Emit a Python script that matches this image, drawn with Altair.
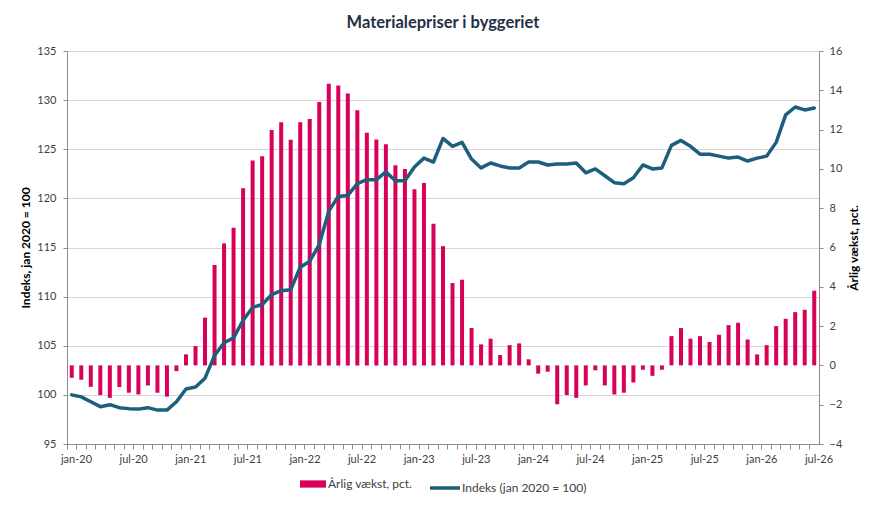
import altair as alt
import pandas as pd

years = [20, 21, 22, 23, 24, 25, 26]
mon = ['jan', 'feb', 'mar', 'apr', 'maj', 'jun', 'jul', 'aug', 'sep', 'okt', 'nov', 'dec']
months = [f"{m}-{y}" for y in years for m in mon][:79]

growth = [
    -0.63, -0.73, -1.09, -1.51, -1.65, -1.10, -1.39, -1.48, -1.02, -1.39, -1.59, -0.29,
    0.56, 0.98, 2.43, 5.11, 6.21, 7.01, 9.02, 10.43, 10.65, 11.98, 12.38, 11.48,
    12.38, 12.54, 13.40, 14.33, 14.25, 13.84, 12.98, 11.84, 11.50, 11.26, 10.18, 9.99,
    8.96, 9.28, 7.21, 6.07, 4.19, 4.36, 1.90, 1.07, 1.36, 0.53, 1.03, 1.12,
    0.31, -0.42, -0.32, -1.98, -1.51, -1.65, -1.02, -0.25, -1.02, -1.48, -1.39, -0.87,
    -0.22, -0.53, -0.22, 1.49, 1.90, 1.36, 1.49, 1.19, 1.56, 2.05, 2.17, 1.32,
    0.56, 1.03, 2.00, 2.37, 2.71, 2.83, 3.80,
]

index = [
    100.0, 99.8, 99.3, 98.8, 99.0, 98.7, 98.6, 98.55, 98.7, 98.45, 98.45, 99.3,
    100.6, 100.8, 101.7, 104.0, 105.3, 105.8, 107.6, 108.9, 109.2, 110.2, 110.6, 110.7,
    113.0, 113.6, 115.3, 118.7, 120.2, 120.3, 121.5, 121.9, 121.9, 122.7, 121.8, 121.8,
    123.2, 124.1, 123.7, 126.1, 125.3, 125.7, 124.0, 123.1, 123.6, 123.3, 123.1, 123.1,
    123.7, 123.7, 123.4, 123.5, 123.5, 123.6, 122.6, 123.0, 122.3, 121.6, 121.5, 122.1,
    123.4, 123.0, 123.1, 125.4, 125.9, 125.3, 124.5, 124.5, 124.3, 124.1, 124.2, 123.8,
    124.1, 124.3, 125.7, 128.5, 129.3, 129.0, 129.2,
]

left_ticks = [95, 100, 105, 110, 115, 120, 125, 130, 135]
right_ticks = [-4, -2, 0, 2, 4, 6, 8, 10, 12, 14, 16]

BAR = 'Årlig vækst, pct.'
LINE = 'Indeks (jan 2020 = 100)'
PINK = '#d8005a'
BLUE = '#1d5e7e'
AXC = '#8c8c8c'
LBL = '#404040'
FONT = 'Lato'

df = pd.DataFrame({'month': months, 'growth': growth, 'idx': index,
                   'sbar': BAR, 'sline': LINE})

bar_legend = alt.Legend(
    orient='none', legendX=233, legendY=420, direction='horizontal', title=None,
    symbolSize=676, symbolType='M-1,-0.28H1V0.28H-1Z', symbolStrokeWidth=0,
    labelFontSize=12, labelColor=LBL, labelFont=FONT, labelOffset=2, padding=0,
)
line_legend = alt.Legend(
    orient='none', legendX=361, legendY=420, direction='horizontal', title=None,
    symbolSize=900, symbolType='stroke', symbolStrokeWidth=3.5,
    labelFontSize=12, labelColor=LBL, labelFont=FONT, labelOffset=0, padding=0,
)

x = alt.X(
    'month:O', sort=months,
    scale=alt.Scale(paddingInner=0, paddingOuter=0),
    axis=alt.Axis(
        title=None, labelAngle=0, labelOverlap=False,
        bandPosition=0, labelOffset=4.76,
        labelExpr="(slice(datum.value,0,3)=='jan' || slice(datum.value,0,3)=='jul') ? datum.value : ''",
        tickSize=5, tickColor=AXC, domainColor=AXC, labelColor=LBL,
        labelFontSize=11, labelFont=FONT, labelPadding=4, grid=False,
    ),
)

bars = alt.Chart(df).mark_bar(size=4).encode(
    x=x,
    y=alt.Y('growth:Q', scale=alt.Scale(domain=[-4, 16], nice=False),
            axis=alt.Axis(orient='right', values=right_ticks, title=BAR,
                          titleAngle=270,
                          titleFontWeight='bold', titleFontSize=12, titleColor='#000000',
                          titleFont=FONT, titlePadding=19, grid=False,
                          tickSize=4, labelPadding=6,
                          domainColor=AXC, tickColor=AXC, labelColor=LBL,
                          labelFontSize=11, labelFont=FONT)),
    color=alt.Color('sbar:N', scale=alt.Scale(domain=[BAR], range=[PINK]), legend=bar_legend),
)

line = alt.Chart(df).mark_line(strokeWidth=3.5, strokeJoin='round', strokeCap='round').encode(
    x=x,
    y=alt.Y('idx:Q', scale=alt.Scale(domain=[95, 135], nice=False, zero=False),
            axis=alt.Axis(orient='left', values=left_ticks, title='Indeks, jan 2020 = 100',
                          titleFontWeight='bold', titleFontSize=12, titleColor='#000000',
                          titleFont=FONT, titlePadding=4, grid=True, gridColor='#d6d6d6',
                          tickSize=4, labelPadding=7,
                          domainColor=AXC, tickColor=AXC, labelColor=LBL,
                          labelFontSize=11, labelFont=FONT)),
    stroke=alt.Stroke('sline:N', scale=alt.Scale(domain=[LINE], range=[BLUE]), legend=line_legend),
)

chart = alt.layer(bars, line).resolve_scale(y='independent').properties(
    width=752, height=393,
    padding={'left': 11, 'top': 6, 'right': 10, 'bottom': 5},
    title=alt.TitleParams('Materialepriser i byggeriet', fontSize=16.5, fontWeight='bold',
                          color='#1f3044', anchor='middle', offset=14, font=FONT),
    background='white',
).configure_view(strokeWidth=0)

chart.save("out.html", embed_options={"renderer": "svg", "actions": False})
